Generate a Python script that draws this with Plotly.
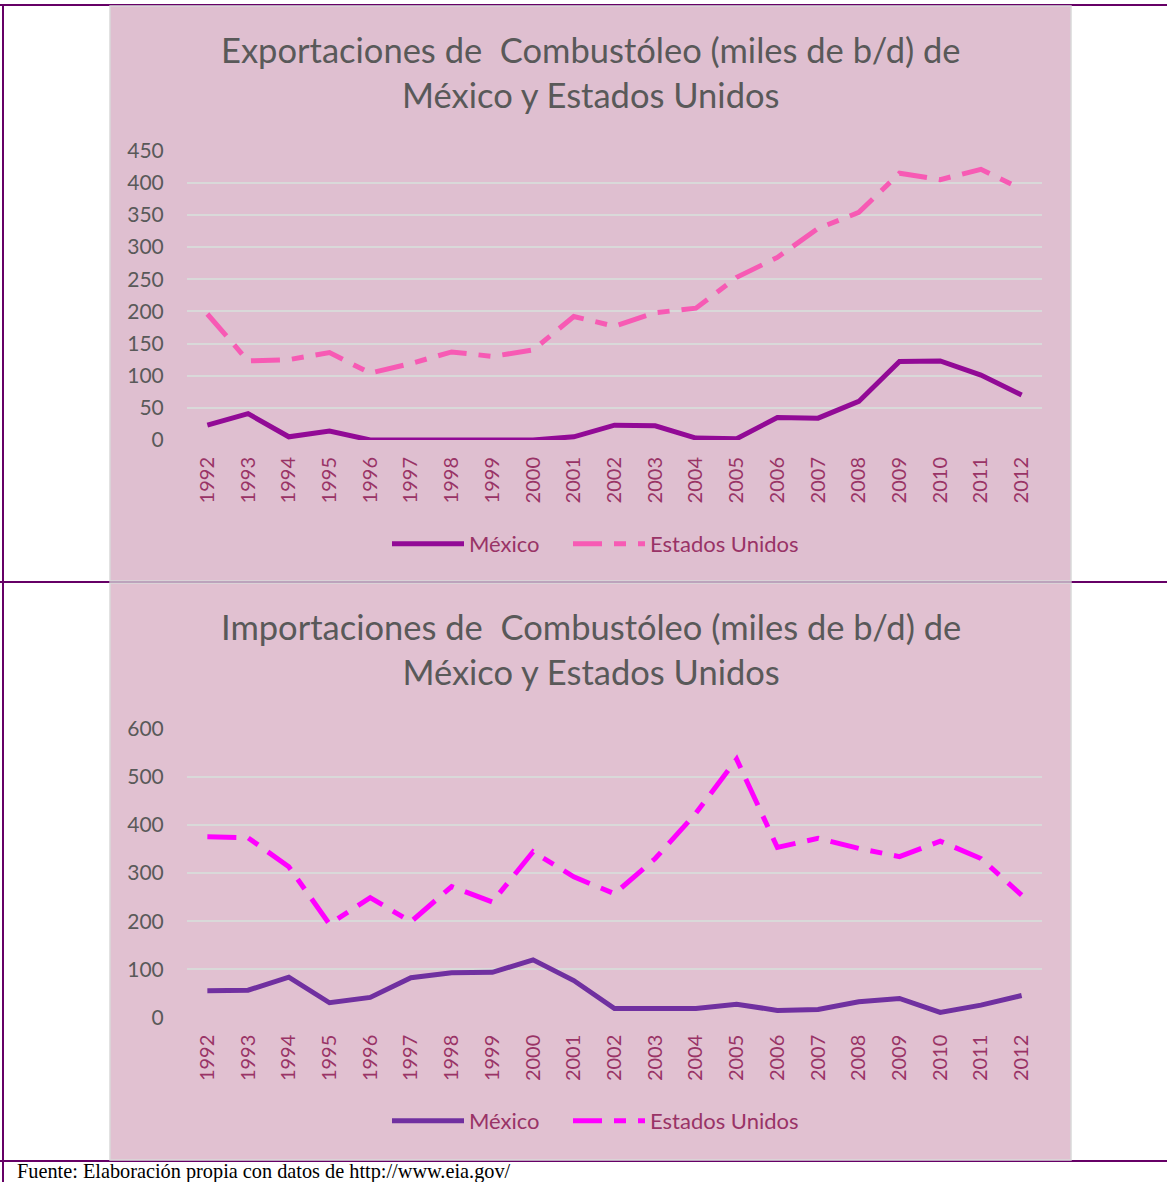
import plotly.graph_objects as go

years = [str(y) for y in range(1992, 2013)]
mex_exp = [23, 41, 5, 14, 0, 0, 1, 1, 0, 5, 23, 22, 3, 2, 35, 34, 60, 122, 123, 101, 70]
usa_exp = [196, 123, 125, 136, 104, 119, 137, 130, 140, 192, 177, 198, 205, 253, 284, 329, 354, 415, 405, 421, 390]
mex_imp = [56, 57, 84, 31, 42, 83, 93, 94, 120, 77, 19, 19, 19, 28, 15, 17, 33, 40, 11, 26, 46]
usa_imp = [375, 373, 313, 194, 249, 199, 272, 240, 344, 292, 257, 330, 424, 536, 353, 372, 351, 334, 366, 330, 254]

title1 = "Exportaciones de&nbsp; Combustóleo (miles de b/d) de<br>México y Estados Unidos"
title2 = "Importaciones de&nbsp; Combustóleo (miles de b/d) de<br>México y Estados Unidos"
source = "Fuente: Elaboración propia con datos de http://www.eia.gov/"

W, H = 1167, 1182
def px(x):
    return x / W
def py(y):
    return 1 - y / H

FONT = "Lato"
GREY = "#595959"
MAROON = "#993366"
BORDER = "#660066"
DASH = "29px,12px,12px,12px"

fig = go.Figure()
fig.add_trace(go.Scatter(x=years, y=mex_exp, name="México", mode="lines",
                         line=dict(color="#920A96", width=5), xaxis="x", yaxis="y", legend="legend"))
fig.add_trace(go.Scatter(x=years, y=usa_exp, name="Estados Unidos", mode="lines",
                         line=dict(color="#F75AB4", width=5, dash=DASH), xaxis="x", yaxis="y", legend="legend2"))
fig.add_trace(go.Scatter(x=years, y=mex_imp, name="México", mode="lines",
                         line=dict(color="#7030A0", width=5), xaxis="x2", yaxis="y2", legend="legend3"))
fig.add_trace(go.Scatter(x=years, y=usa_imp, name="Estados Unidos", mode="lines",
                         line=dict(color="#FF00FF", width=5, dash=DASH), xaxis="x2", yaxis="y2", legend="legend4"))

xcommon = dict(type="category", range=[-0.5, 20.5], showgrid=False, zeroline=False, showline=False,
               tickangle=-90, ticks="outside", ticklen=8, tickcolor="rgba(0,0,0,0)", automargin=False,
               tickfont=dict(family=FONT, size=20, color=MAROON), fixedrange=True)
ycommon = dict(showgrid=True, gridcolor="#D9D9D9", gridwidth=1.5, zeroline=False, showline=False,
               ticks="outside", ticklen=18, tickcolor="rgba(0,0,0,0)", automargin=False,
               tickfont=dict(family=FONT, size=21, color=GREY), fixedrange=True)

legcommon = dict(orientation="h", xanchor="left", yanchor="middle", bgcolor="rgba(0,0,0,0)",
                 font=dict(family=FONT, size=22, color=MAROON), itemwidth=72)

shapes = []
line_style = dict(color=BORDER, width=2)
shapes.append(dict(type="line", xref="paper", yref="paper", x0=0, x1=1, y0=py(5), y1=py(5), line=line_style, layer="below"))
shapes.append(dict(type="line", xref="paper", yref="paper", x0=0, x1=1, y0=py(582), y1=py(582), line=line_style, layer="below"))
shapes.append(dict(type="line", xref="paper", yref="paper", x0=0, x1=1, y0=py(1161), y1=py(1161), line=line_style, layer="below"))
shapes.append(dict(type="line", xref="paper", yref="paper", x0=px(3), x1=px(3), y0=py(5), y1=0, line=line_style, layer="below"))
shapes.append(dict(type="rect", xref="paper", yref="paper", x0=px(110), x1=px(1071), y0=py(581), y1=py(6),
                   fillcolor="#DFBFD0", line=dict(color="#D9D9D9", width=1.5), layer="below"))
shapes.append(dict(type="rect", xref="paper", yref="paper", x0=px(110), x1=px(1071), y0=py(1160), y1=py(583),
                   fillcolor="#E1C1D1", line=dict(color="#D9D9D9", width=1.5), layer="below"))

annotations = [
    dict(text=title1, xref="paper", yref="paper", x=px(591), y=py(27), xanchor="center", yanchor="top",
         showarrow=False, font=dict(family=FONT, size=34.5, color=GREY)),
    dict(text=title2, xref="paper", yref="paper", x=px(591), y=py(604), xanchor="center", yanchor="top",
         showarrow=False, font=dict(family=FONT, size=34.5, color=GREY)),
    dict(text=source, xref="paper", yref="paper", x=px(16), y=py(1159.3), xanchor="left", yanchor="top",
         showarrow=False, borderpad=0, font=dict(family="Liberation Serif", size=20.3, color="#000000")),
]

fig.update_layout(
    width=W, height=H, autosize=False,
    margin=dict(l=0, r=0, t=0, b=0, pad=0),
    paper_bgcolor="white", plot_bgcolor="rgba(0,0,0,0)",
    xaxis=dict(domain=[px(187), px(1042)], anchor="y", **xcommon),
    yaxis=dict(domain=[py(440), py(150.7)], anchor="x", range=[0, 450], dtick=50, **ycommon),
    xaxis2=dict(domain=[px(187), px(1042)], anchor="y2", **xcommon),
    yaxis2=dict(domain=[py(1017.7), py(728.3)], anchor="x2", range=[0, 600], dtick=100, **ycommon),
    legend=dict(x=px(387), y=py(544), **legcommon),
    legend2=dict(x=px(568), y=py(544), **legcommon),
    legend3=dict(x=px(387), y=py(1121), **legcommon),
    legend4=dict(x=px(568), y=py(1121), **legcommon),
    shapes=shapes, annotations=annotations,
    showlegend=True,
)

fig.write_html("out.html", config={"displayModeBar": False},
               post_script="document.body.style.margin='0';document.body.style.overflow='hidden';")
